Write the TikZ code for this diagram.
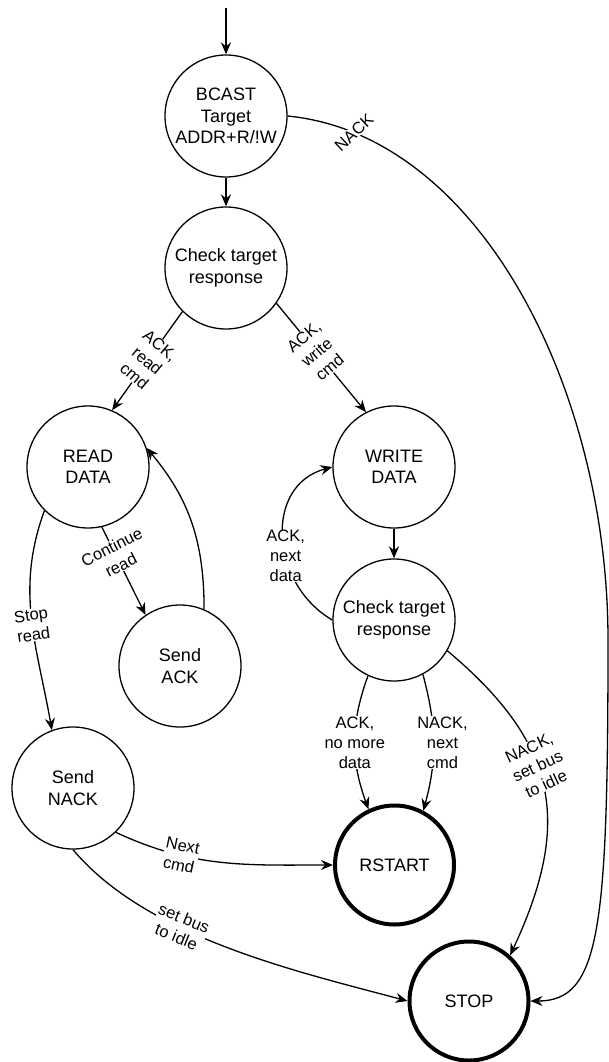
\documentclass[tikz,border=0pt]{standalone}
\usepackage{fontspec}
\setmainfont{Liberation Sans}
\usetikzlibrary{arrows.meta}
\begin{document}
\begin{tikzpicture}[x=1pt,y=-1pt,
  state/.style={circle, draw, line width=1.3pt, minimum size=122pt, inner sep=0pt,
    align=center, font=\fontsize{18}{21.5}\selectfont},
  final/.style={state, line width=4pt, minimum size=119pt},
  edge/.style={line width=1.3pt, -{Stealth[length=12pt,width=10pt,inset=4pt]}},
  mainedge/.style={edge, line width=2pt},
  lab/.style={fill=white, inner sep=0.5pt, align=center, font=\fontsize{16.5}{20}\selectfont}
]
\useasboundingbox (0,0) rectangle (609,1062);

% states
\coordinate (entry) at (226,8);
\node[state] (bcast) at (226,116) {BCAST\\Target\\ADDR+R/!W};
\node[state] (chk1)  at (226,268) {Check target\\response};
\node[state] (read)  at (88,467)  {READ\\DATA};
\node[state] (write) at (394,467) {WRITE\\DATA};
\node[state] (sack)  at (180,666) {Send\\ACK};
\node[state] (chk2)  at (394,620) {Check target\\response};
\node[state] (snack) at (73,788)  {Send\\NACK};
\node[final] (rstart) at (394.5,865) {RSTART};
\node[final] (stop)  at (469,1001) {STOP};

% main flow
\draw[mainedge] (entry) -- (bcast);
\draw[mainedge] (bcast) -- (chk1);
\draw[mainedge] (write) -- (chk2);

% address not acknowledged
\draw[edge] (bcast.east) .. controls (480,135) and (608,390) .. (608,640)
  node[lab, pos=0.12, rotate=43] (lnack) {NACK}
  .. controls (608,930) and (600,1001) .. (stop.east);

% read / write branches
\draw[edge] (chk1.225) -- node[lab, rotate=-40] (lrd) {ACK,\\read\\cmd} (read.67);
\draw[edge] (chk1.-35) -- node[lab, rotate=40, pos=0.45] (lwr) {ACK,\\write\\cmd} (write.117);

% write loop
\draw[edge] (chk2.west) to[out=150, in=195, looseness=1.2]
  node[lab, pos=0.4] (lnext) {ACK,\\next\\data} (write.west);

% read loop
\draw[edge] (read.-77) -- node[lab, rotate=27, pos=0.33] (lcont) {Continue\\read} (sack.124);
\draw[edge] (sack.67) to[out=90, in=-50] (read.18);
\draw[edge] (read.225) to[out=-110, in=100]
  node[lab, rotate=8, pos=0.53] (lstop) {Stop\\read} (snack.110);

% leaving Send NACK
\draw[edge] (snack.-46) to[out=-25, in=180]
  node[lab, rotate=-12, pos=0.3] (lnc) {Next\\cmd} (rstart.west);
\draw[edge] (snack.south) to[out=-50, in=165, looseness=0.8]
  node[lab, rotate=-22, pos=0.37] (lidle) {set bus\\to idle} (stop.west);

% leaving the write check
\draw[edge] (chk2.-115) to[out=-110, in=110]
  node[lab] (lnomore) {ACK,\\no more\\data} (rstart.115);
\draw[edge] (chk2.-62) to[out=-75, in=75]
  node[lab, xshift=9pt] (lnn) {NACK,\\next\\cmd} (rstart.62);
\draw[edge] (chk2.-30) to[out=-40, in=65, looseness=1.2]
  node[lab, rotate=25, pos=0.42] (lns) {NACK,\\set bus\\to idle} (stop.48);
\end{tikzpicture}
\end{document}
